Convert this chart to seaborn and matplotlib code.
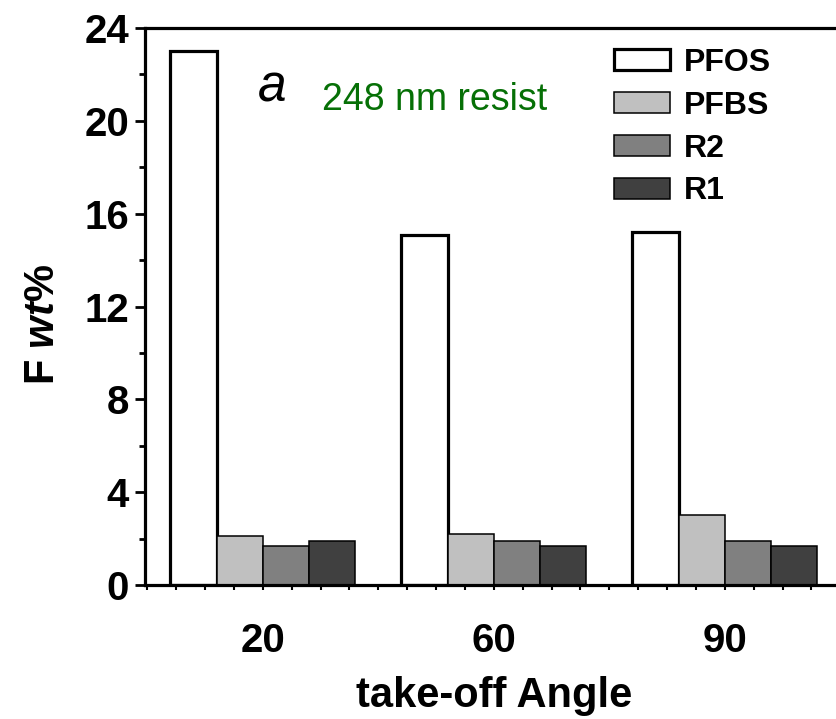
import matplotlib
matplotlib.use("Agg")
import matplotlib.pyplot as plt
from matplotlib.ticker import MultipleLocator
from matplotlib.patches import Patch
import seaborn as sns
import pandas as pd

# Fluorine content by take-off angle
angles = ["20", "60", "90"]
compounds = ["PFOS", "PFBS", "R2", "R1"]
pfos = [23.0, 15.1, 15.2]
pfbs = [2.1, 2.2, 3.0]
r2 = [1.7, 1.9, 1.9]
r1 = [1.9, 1.7, 1.7]
colors = ["#ffffff", "#c0c0c0", "#808080", "#404040"]

series = {"PFOS": pfos, "PFBS": pfbs, "R2": r2, "R1": r1}
rows = []
for name in compounds:
    for ang, val in zip(angles, series[name]):
        rows.append({"angle": ang, "compound": name, "value": val})
df = pd.DataFrame(rows)

sns.set_theme(style="ticks")
plt.rcParams["font.family"] = ["Liberation Sans", "DejaVu Sans"]
plt.rcParams["mathtext.fontset"] = "custom"
plt.rcParams["mathtext.rm"] = "Liberation Sans:bold"
plt.rcParams["mathtext.it"] = "Liberation Sans:bold:italic"
plt.rcParams["mathtext.bf"] = "Liberation Sans:bold"
for key in ["text.color", "axes.labelcolor", "xtick.color", "ytick.color",
            "axes.edgecolor"]:
    plt.rcParams[key] = "black"

fig = plt.figure(figsize=(8.36, 7.19), dpi=100)
ax = fig.add_axes([145 / 836, 1 - 585 / 719, 697.6 / 836, (585 - 28) / 719])

sns.barplot(data=df, x="angle", y="value", hue="compound", order=angles,
            hue_order=compounds, palette=colors, width=0.8, saturation=1,
            edgecolor="black", linewidth=1.1, ax=ax, legend=False)
for patch in ax.containers[0]:
    patch.set_linewidth(2.3)

ax.set_xlim(-0.51, 2.51)
ax.set_ylim(0, 24)
ax.yaxis.set_major_locator(MultipleLocator(4))
ax.yaxis.set_minor_locator(MultipleLocator(2))
ax.xaxis.set_minor_locator(MultipleLocator(0.125))

for side in ["left", "bottom", "top", "right"]:
    ax.spines[side].set_linewidth(2.3)
    ax.spines[side].set_color("black")

ax.tick_params(axis="y", which="major", length=7.5, width=2, direction="out",
               labelsize=29, pad=4, colors="black")
ax.tick_params(axis="y", which="minor", length=4, width=2, direction="out",
               colors="black")
ax.tick_params(axis="x", which="major", length=3.6, width=1.5, direction="out",
               labelsize=29, pad=23, colors="black")
ax.tick_params(axis="x", which="minor", length=3.6, width=1.5, direction="out",
               colors="black")
for lab in ax.get_xticklabels() + ax.get_yticklabels():
    lab.set_fontweight("bold")

ax.set_xlabel("take-off Angle", fontsize=30, fontweight="bold", labelpad=11.5)
ax.set_ylabel(r"F $\mathit{wt}$%", fontsize=30, fontweight="bold")
ax.yaxis.set_label_coords(-0.117, 0.467)

handles = [Patch(facecolor=c, edgecolor="black",
                 linewidth=2.3 if n == "PFOS" else 1.1)
           for n, c in zip(compounds, colors)]
ax.legend(handles, compounds, loc="upper left",
          bbox_to_anchor=(614 / 836, 1 - 48 / 719), bbox_transform=fig.transFigure,
          frameon=False, borderpad=0, borderaxespad=0,
          prop={"family": "Liberation Sans", "weight": "bold", "size": 23},
          handlelength=1.75, handleheight=0.63, handletextpad=0.45,
          labelspacing=0.4)

ax.text(272 / 836, 1 - 88 / 719, "a", transform=fig.transFigure, fontsize=37,
        fontstyle="italic", ha="center", va="center", color="black")
ax.text(322 / 836, 1 - 110 / 719, "248 nm resist", transform=fig.transFigure,
        fontsize=27, color="#067006", ha="left", va="baseline")

fig.savefig("out.png", dpi=100)
